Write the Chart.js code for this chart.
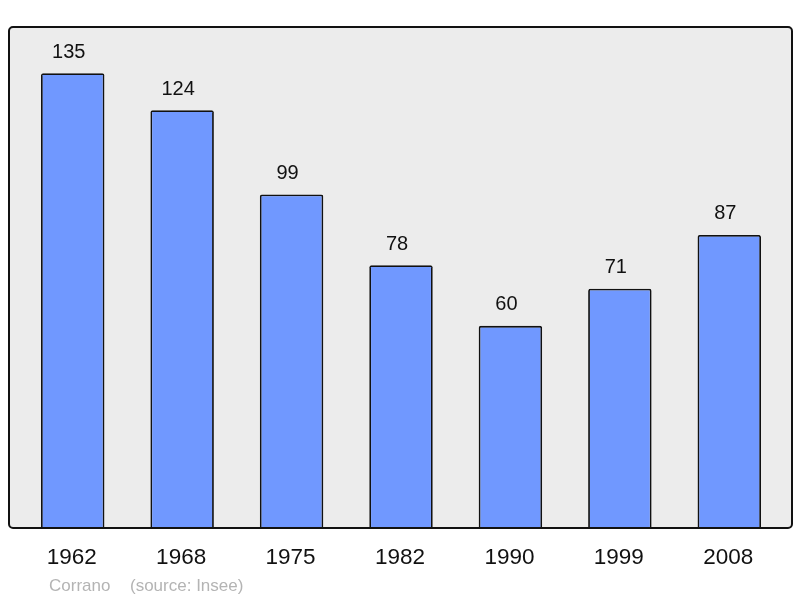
<!DOCTYPE html>
<html>
<head>
<meta charset="utf-8">
<script src="https://cdn.jsdelivr.net/npm/chart.js@4/dist/chart.umd.min.js"></script>
<style>
  body { margin: 0; background: #fff; }
  #wrap { width: 800px; height: 598px; }
</style>
</head>
<body>
<div id="wrap"><canvas id="pop"></canvas></div>
<script>
const years = ['1962', '1968', '1975', '1982', '1990', '1999', '2008']
const population = [135, 124, 99, 78, 60, 71, 87]
const placeName = 'Corrano'
const sourceText = '(source: Insee)'

// gray framed panel behind the bars
const panel = {
    id: 'panel',
    beforeDraw(chart) {
        const { ctx, chartArea: a } = chart
        const x = a.left - 9, y = a.top, w = a.right - a.left + 17, h = a.bottom - a.top
        ctx.save()
        ctx.beginPath()
        ctx.roundRect(x, y, w, h, 4)
        ctx.fillStyle = '#ececec'
        ctx.fill()
        ctx.restore()
    },
    afterDatasetsDraw(chart) {
        const { ctx, chartArea: a } = chart
        const x = a.left - 9, y = a.top, w = a.right - a.left + 17, h = a.bottom - a.top
        ctx.save()
        ctx.beginPath()
        ctx.roundRect(x, y, w, h, 4)
        ctx.lineWidth = 2
        ctx.strokeStyle = '#111'
        ctx.stroke()
        ctx.restore()
    }
}

// value labels, year labels and footer
const labels = {
    id: 'labels',
    afterDraw(chart) {
        const { ctx, chartArea: a } = chart
        const xs = chart.scales.x, ys = chart.scales.y
        ctx.save()
        ctx.fillStyle = '#111'
        ctx.textAlign = 'center'
        ctx.textBaseline = 'middle'
        ctx.font = '20px "Liberation Sans", Arial, sans-serif'
        population.forEach((v, i) => {
            ctx.fillText(String(v), xs.getPixelForValue(i) - 4, ys.getPixelForValue(v) - 21)
        })
        ctx.font = '22.5px "Liberation Sans", Arial, sans-serif'
        years.forEach((yr, i) => {
            ctx.fillText(yr, xs.getPixelForValue(i) - 1, a.bottom + 30)
        })
        ctx.textAlign = 'left'
        ctx.fillStyle = '#b4b4b4'
        ctx.font = '17px "Liberation Sans", Arial, sans-serif'
        ctx.fillText(placeName, a.left + 31, a.bottom + 58)
        ctx.fillText(sourceText, a.left + 112, a.bottom + 58)
        ctx.restore()
    }
}

new Chart(document.getElementById('pop'), {
    type: 'bar',
    data: {
        labels: years,
        datasets: [{
            data: population,
            backgroundColor: '#7098ff',
            borderColor: '#111',
            borderWidth: 1.8,
            borderRadius: 2,
            borderSkipped: 'bottom',
            categoryPercentage: 1,
            barPercentage: 0.58
        }]
    },
    options: {
        responsive: true,
        maintainAspectRatio: false,
        animation: false,
        layout: { padding: { left: 18, right: 16, top: 27, bottom: 70 } },
        plugins: { legend: { display: false }, tooltip: { enabled: false } },
        scales: {
            x: { display: false },
            y: { display: false, min: 0, max: 148.7 }
        }
    },
    plugins: [panel, labels]
})
</script>
</body>
</html>
